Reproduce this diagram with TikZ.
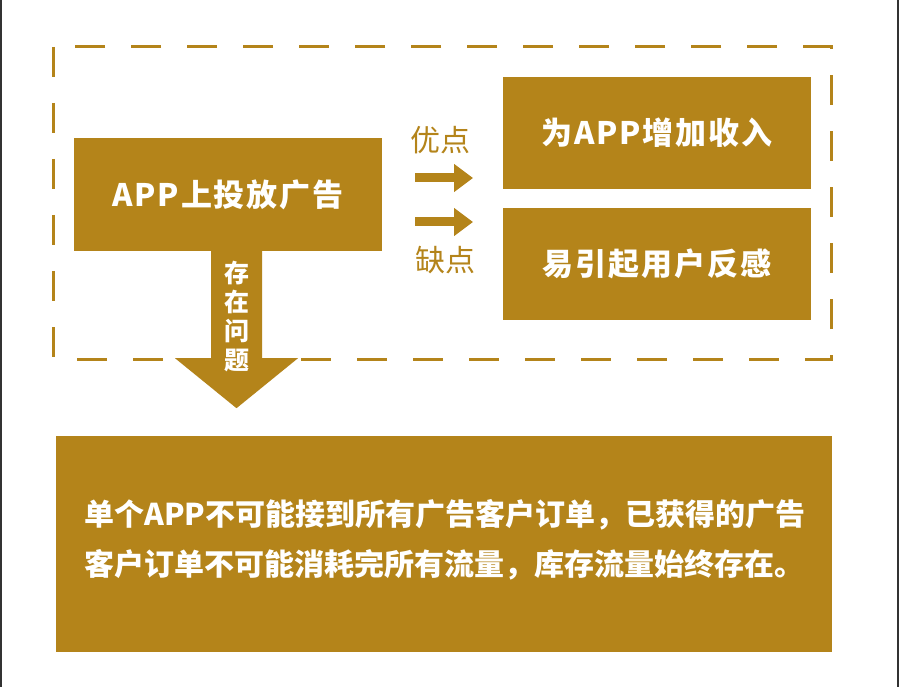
\documentclass[tikz,border=0pt]{standalone}
\usepackage{fontspec}
\usetikzlibrary{arrows.meta,calc}
\newfontfamily\cjk[LetterSpace=6]{Noto Sans CJK SC}
\newfontfamily\cjkplain{Noto Sans CJK SC}
\definecolor{gold}{RGB}{180,132,26}
\definecolor{edge}{RGB}{50,50,50}
\tikzset{
  goldbox/.style={fill=gold, draw=none, inner sep=0pt, text=white, font=\cjk\bfseries\fontsize{31}{36}\selectfont},
  goldlabel/.style={text=gold, inner sep=0pt, font=\cjkplain\fontsize{30}{36}\selectfont},
  fatarrow/.style={draw=gold, line width=9pt, -{Triangle[length=19pt,width=27pt]}},
}
\begin{document}
\begin{tikzpicture}[x=1pt,y=-1pt]
\useasboundingbox (0,0) rectangle (900,687);
\fill[white] (0,0) rectangle (900,687);
\draw[edge, line width=2pt] (1,0) -- (1,687);
\draw[edge, line width=2pt] (898,0) -- (898,687);
% dashed frame
\draw[gold, line width=3pt, dash pattern=on 30pt off 26pt] (53,47) rectangle (831,359);
% boxes
\node[goldbox, minimum width=308pt, minimum height=113pt] (main) at (228,194.5) {APP上投放广告};
\node[goldbox, minimum width=308pt, minimum height=112pt] (pro) at (657,133) {为APP增加收入};
\node[goldbox, minimum width=308pt, minimum height=112pt] (con) at (657,264) {易引起用户反感};
\node[goldbox, minimum width=776pt, minimum height=216pt] (bottom) at (444,544) {};
\node[anchor=west, inner sep=0pt, text=white, align=left, font=\cjkplain\bfseries\fontsize{30}{50}\selectfont] (btext) at (84,540)
  {单个APP不可能接到所有广告客户订单，已获得的广告\\客户订单不可能消耗完所有流量，库存流量始终存在。};
% down arrow
\coordinate (ds) at ($(main.south)+(8.5,0)$);
\fill[gold] ($(ds)+(-25.5,0)$) -- ($(ds)+(25.5,0)$) -- ($(ds)+(25.5,107)$)
  -- ($(ds)+(61.5,107)$) -- ($(ds)+(0,157)$) -- ($(ds)+(-61.5,107)$)
  -- ($(ds)+(-25.5,107)$) -- cycle;
\node[inner sep=0pt, text=white, align=center, font=\cjkplain\bfseries\fontsize{25}{29}\selectfont] (issue) at (236.5,316) {存\\在\\问\\题};
% side labels and arrows
\node[goldlabel] (plus) at (440,140) {优点};
\node[goldlabel] (minus) at (445,260) {缺点};
\coordinate (a1s) at (415,178);
\coordinate (a1e) at (473,178);
\coordinate (a2s) at (415,222);
\coordinate (a2e) at (473,222);
\draw[fatarrow] (a1s) -- (a1e);
\draw[fatarrow] (a2s) -- (a2e);
\end{tikzpicture}
\end{document}
